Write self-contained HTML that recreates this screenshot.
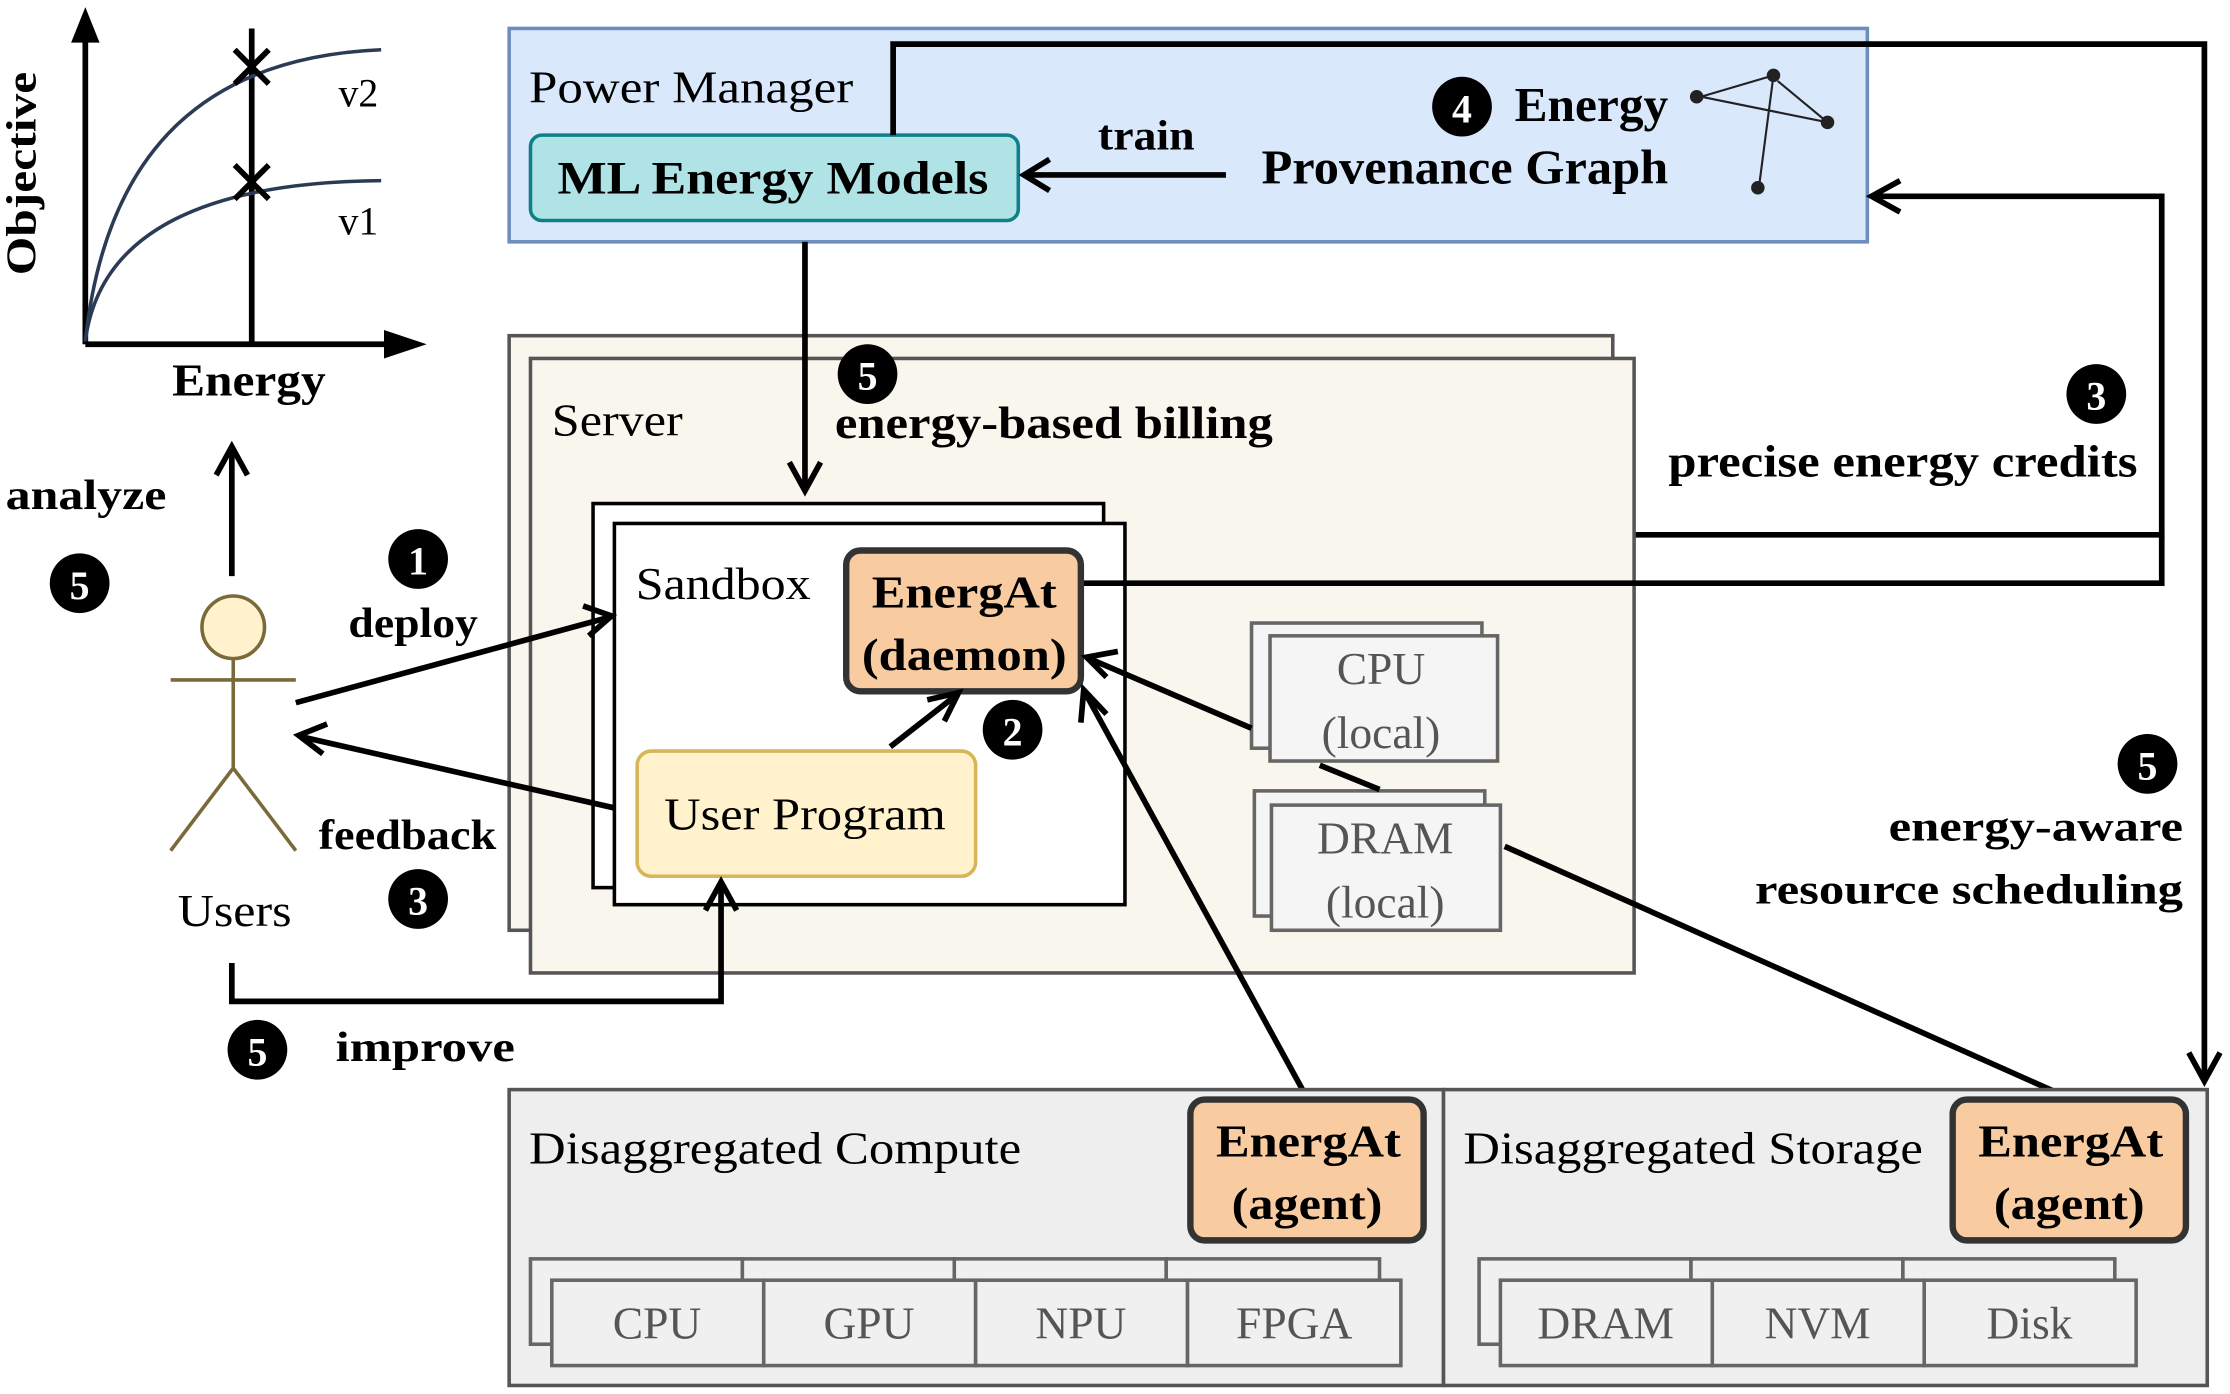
<!DOCTYPE html>
<html><head><meta charset="utf-8"><style>
html,body{margin:0;padding:0;background:#fff;}
svg{display:block;}
text{font-family:"Liberation Serif",serif;}
.b{font-weight:bold;}
</style></head><body>
<svg width="2230" height="1394" viewBox="0 0 1568 980" preserveAspectRatio="none" xmlns="http://www.w3.org/2000/svg">
<!-- chart -->
<g stroke="#000" stroke-width="4" fill="none">
<line x1="60" y1="242" x2="60" y2="25"/><line x1="60" y1="242" x2="280" y2="242"/>
<line x1="177" y1="20" x2="177" y2="242"/>
</g>
<polygon points="60,5 50,30 70,30" fill="#000"/>
<polygon points="300,242 270,232 270,252" fill="#000"/>
<path d="M60,240 C75,100 150,40 268,35" stroke="#2b3b55" stroke-width="2.5" fill="none"/>
<path d="M60,240 C70,160 150,128 268,127" stroke="#2b3b55" stroke-width="2.5" fill="none"/>
<g stroke="#000" stroke-width="4"><line x1="165" y1="35" x2="189" y2="59"/><line x1="189" y1="35" x2="165" y2="59"/>
<line x1="165" y1="116" x2="189" y2="140"/><line x1="189" y1="116" x2="165" y2="140"/></g>
<text x="238" y="75" font-size="28">v2</text><text x="238" y="165" font-size="28">v1</text>
<text class="b" x="0" y="0" font-size="30" transform="translate(25,122) rotate(-90)" text-anchor="middle" textLength="143" lengthAdjust="spacingAndGlyphs">Objective</text>
<text class="b" x="121" y="278" font-size="32" textLength="108" lengthAdjust="spacingAndGlyphs">Energy</text>

<!-- power manager -->
<rect x="358" y="20" width="955" height="150" fill="#dae8fc" stroke="#6c8ebf" stroke-width="2.5"/>
<text x="372" y="72" font-size="32" textLength="228" lengthAdjust="spacingAndGlyphs">Power Manager</text>
<rect x="373" y="95" width="343" height="60" rx="8" fill="#b0e3e6" stroke="#0e8088" stroke-width="2.5"/>
<text class="b" x="392" y="136" font-size="33" textLength="303" lengthAdjust="spacingAndGlyphs">ML  Energy Models</text>
<line x1="862" y1="123" x2="722" y2="123" stroke="#000" stroke-width="4"/>
<polyline points="738,112 720,123 738,134" stroke="#000" stroke-width="4" fill="none"/>
<text class="b" x="772" y="105" font-size="30" textLength="68" lengthAdjust="spacingAndGlyphs">train</text>
<circle cx="1028" cy="75" r="21" fill="#000"/><text class="b" x="1028" y="86" font-size="28" fill="#fff" text-anchor="middle">4</text>
<text class="b" x="1065" y="85" font-size="34" textLength="108" lengthAdjust="spacingAndGlyphs">Energy</text>
<text class="b" x="887" y="129" font-size="34" textLength="286" lengthAdjust="spacingAndGlyphs">Provenance Graph</text>
<g stroke="#222" stroke-width="1.5" fill="#222">
<line x1="1247" y1="53" x2="1196" y2="68"/><line x1="1285" y1="86" x2="1196" y2="68"/><line x1="1285" y1="86" x2="1250" y2="57"/><line x1="1247" y1="53" x2="1237" y2="130"/>
<circle cx="1193" cy="68" r="4"/><circle cx="1247" cy="53" r="4"/><circle cx="1285" cy="86" r="4"/><circle cx="1236" cy="132" r="4"/>
</g>

<!-- big connectors -->
<polyline points="628,95 628,31 1550,31 1550,758" stroke="#000" stroke-width="4" fill="none"/>
<polyline points="1539,740 1550,760 1561,740" stroke="#000" stroke-width="4" fill="none"/>
<polyline points="1148,376 1520,376 1520,138 1318,138" stroke="#000" stroke-width="4" fill="none"/>
<polyline points="1336,127 1316,138 1336,149" stroke="#000" stroke-width="4" fill="none"/>

<!-- server -->
<rect x="358" y="236" width="776" height="418" fill="#f9f7ed" stroke="#555" stroke-width="2.5"/>
<rect x="373" y="252" width="776" height="432" fill="#f9f7ed" stroke="#555" stroke-width="2.5"/>
<text x="388" y="306" font-size="32" textLength="92" lengthAdjust="spacingAndGlyphs">Server</text>
<line x1="566" y1="170" x2="566" y2="342" stroke="#000" stroke-width="4"/>
<polyline points="555,325 566,345 577,325" stroke="#000" stroke-width="4" fill="none"/>
<circle cx="610" cy="263" r="21" fill="#000"/><text class="b" x="610" y="274" font-size="28" fill="#fff" text-anchor="middle">5</text>
<text class="b" x="587" y="308" font-size="32" textLength="308" lengthAdjust="spacingAndGlyphs">energy-based billing</text>
<circle cx="1474" cy="277" r="21" fill="#000"/><text class="b" x="1474" y="288" font-size="28" fill="#fff" text-anchor="middle">3</text>
<text class="b" x="1173" y="335" font-size="32" textLength="330" lengthAdjust="spacingAndGlyphs">precise energy credits</text>

<!-- sandbox -->
<rect x="417" y="354" width="359" height="270" fill="#fff" stroke="#000" stroke-width="2.5"/>
<rect x="432" y="368" width="359" height="268" fill="#fff" stroke="#000" stroke-width="2.5"/>
<polyline points="760,410 1520,410 1520,376" stroke="#000" stroke-width="4" fill="none"/>
<text x="447" y="421" font-size="32" textLength="123" lengthAdjust="spacingAndGlyphs">Sandbox</text>
<rect x="595" y="387" width="165" height="99" rx="10" fill="#f8cba0" stroke="#333" stroke-width="4.5"/>
<text class="b" x="613" y="427" font-size="32" textLength="130" lengthAdjust="spacingAndGlyphs">EnergAt</text>
<text class="b" x="606" y="471" font-size="32" textLength="144" lengthAdjust="spacingAndGlyphs">(daemon)</text>
<rect x="448" y="528" width="238" height="88" rx="10" fill="#fff2cc" stroke="#d6b656" stroke-width="2.5"/>
<text x="467" y="583" font-size="32" textLength="198" lengthAdjust="spacingAndGlyphs">User Program</text>
<line x1="626" y1="525" x2="672" y2="489" stroke="#000" stroke-width="4"/>
<polyline points="652,492 674,487 664,507" stroke="#000" stroke-width="4" fill="none"/>
<circle cx="712" cy="513" r="21" fill="#000"/><text class="b" x="712" y="524" font-size="28" fill="#fff" text-anchor="middle">2</text>

<!-- local hw -->
<rect x="880" y="438" width="162" height="88" fill="#f5f5f5" stroke="#666" stroke-width="2.5"/>
<rect x="893" y="447" width="160" height="88" fill="#f5f5f5" stroke="#666" stroke-width="2.5"/>
<text x="971" y="481" font-size="32" fill="#555" text-anchor="middle">CPU</text>
<text x="971" y="526" font-size="32" fill="#555" text-anchor="middle">(local)</text>
<rect x="882" y="556" width="162" height="88" fill="#f5f5f5" stroke="#666" stroke-width="2.5"/>
<rect x="894" y="566" width="161" height="88" fill="#f5f5f5" stroke="#666" stroke-width="2.5"/>
<text x="974" y="600" font-size="32" fill="#555" text-anchor="middle">DRAM</text>
<text x="974" y="645" font-size="32" fill="#555" text-anchor="middle">(local)</text>
<line x1="970" y1="555" x2="928" y2="538" stroke="#000" stroke-width="4"/>
<line x1="880" y1="512" x2="766" y2="463" stroke="#000" stroke-width="4"/>
<polyline points="778,476 764,462 786,458" stroke="#000" stroke-width="4" fill="none"/>
<line x1="1058" y1="595" x2="1455" y2="772" stroke="#000" stroke-width="4"/>
<line x1="918" y1="770" x2="763" y2="487" stroke="#000" stroke-width="4"/>
<polyline points="760,508 762,485 778,502" stroke="#000" stroke-width="4" fill="none"/>

<!-- users -->
<circle cx="164" cy="441" r="22" fill="#fff2cc" stroke="#7a6a3a" stroke-width="2.5"/>
<g stroke="#7a6a3a" stroke-width="2.5"><line x1="164" y1="463" x2="164" y2="540"/><line x1="120" y1="478" x2="208" y2="478"/>
<line x1="164" y1="540" x2="120" y2="598"/><line x1="164" y1="540" x2="208" y2="598"/></g>
<text x="125" y="651" font-size="32" textLength="80" lengthAdjust="spacingAndGlyphs">Users</text>
<line x1="163" y1="405" x2="163" y2="316" stroke="#000" stroke-width="4"/>
<polyline points="152,334 163,314 174,334" stroke="#000" stroke-width="4" fill="none"/>
<text class="b" x="4" y="358" font-size="30" textLength="113" lengthAdjust="spacingAndGlyphs">analyze</text>
<circle cx="56" cy="410" r="21" fill="#000"/><text class="b" x="56" y="421" font-size="28" fill="#fff" text-anchor="middle">5</text>
<circle cx="294" cy="393" r="21" fill="#000"/><text class="b" x="294" y="404" font-size="28" fill="#fff" text-anchor="middle">1</text>
<text class="b" x="245" y="448" font-size="30" textLength="91" lengthAdjust="spacingAndGlyphs">deploy</text>
<line x1="208" y1="494" x2="428" y2="434" stroke="#000" stroke-width="4"/>
<polyline points="410,426 430,433 414,447" stroke="#000" stroke-width="4" fill="none"/>
<line x1="432" y1="568" x2="212" y2="518" stroke="#000" stroke-width="4"/>
<polyline points="230,509 210,517 227,530" stroke="#000" stroke-width="4" fill="none"/>
<text class="b" x="224" y="597" font-size="30" textLength="125" lengthAdjust="spacingAndGlyphs">feedback</text>
<circle cx="294" cy="632" r="21" fill="#000"/><text class="b" x="294" y="643" font-size="28" fill="#fff" text-anchor="middle">3</text>
<polyline points="163,677 163,704 507,704 507,622" stroke="#000" stroke-width="4" fill="none"/>
<polyline points="496,640 507,620 518,640" stroke="#000" stroke-width="4" fill="none"/>
<circle cx="181" cy="738" r="21" fill="#000"/><text class="b" x="181" y="749" font-size="28" fill="#fff" text-anchor="middle">5</text>
<text class="b" x="236" y="746" font-size="30" textLength="126" lengthAdjust="spacingAndGlyphs">improve</text>
<circle cx="1510" cy="537" r="21" fill="#000"/><text class="b" x="1510" y="548" font-size="28" fill="#fff" text-anchor="middle">5</text>
<text class="b" x="1328" y="591" font-size="30" textLength="207" lengthAdjust="spacingAndGlyphs">energy-aware</text>
<text class="b" x="1234" y="635" font-size="30" textLength="301" lengthAdjust="spacingAndGlyphs">resource scheduling</text>

<!-- disaggregated -->
<rect x="358" y="766" width="657" height="208" fill="#eeeeee" stroke="#555" stroke-width="2.5"/>
<rect x="1015" y="766" width="537" height="208" fill="#eeeeee" stroke="#555" stroke-width="2.5"/>
<text x="372" y="818" font-size="32" textLength="346" lengthAdjust="spacingAndGlyphs">Disaggregated Compute</text>
<text x="1029" y="818" font-size="32" textLength="323" lengthAdjust="spacingAndGlyphs">Disaggregated Storage</text>
<rect x="837" y="773" width="164" height="99" rx="10" fill="#f8cba0" stroke="#333" stroke-width="4.5"/>
<text class="b" x="855" y="813" font-size="32" textLength="130" lengthAdjust="spacingAndGlyphs">EnergAt</text>
<text class="b" x="866" y="857" font-size="32" textLength="106" lengthAdjust="spacingAndGlyphs">(agent)</text>
<rect x="1373" y="773" width="164" height="99" rx="10" fill="#f8cba0" stroke="#333" stroke-width="4.5"/>
<text class="b" x="1391" y="813" font-size="32" textLength="130" lengthAdjust="spacingAndGlyphs">EnergAt</text>
<text class="b" x="1402" y="857" font-size="32" textLength="106" lengthAdjust="spacingAndGlyphs">(agent)</text>
<g fill="#f0f0f0" stroke="#666" stroke-width="2.5">
<rect x="373" y="885" width="149" height="60"/><rect x="522" y="885" width="149" height="60"/><rect x="671" y="885" width="149" height="60"/><rect x="820" y="885" width="150" height="60"/>
<rect x="388" y="900" width="149" height="60"/><rect x="537" y="900" width="149" height="60"/><rect x="686" y="900" width="149" height="60"/><rect x="835" y="900" width="150" height="60"/>
<rect x="1040" y="885" width="149" height="60"/><rect x="1189" y="885" width="149" height="60"/><rect x="1338" y="885" width="149" height="60"/>
<rect x="1055" y="900" width="149" height="60"/><rect x="1204" y="900" width="149" height="60"/><rect x="1353" y="900" width="149" height="60"/>
</g>
<g font-size="32" fill="#555" text-anchor="middle">
<text x="462" y="941">CPU</text><text x="611" y="941">GPU</text><text x="760" y="941">NPU</text><text x="910" y="941">FPGA</text>
<text x="1129" y="941">DRAM</text><text x="1278" y="941">NVM</text><text x="1427" y="941">Disk</text>
</g>
</svg>
</body></html>
